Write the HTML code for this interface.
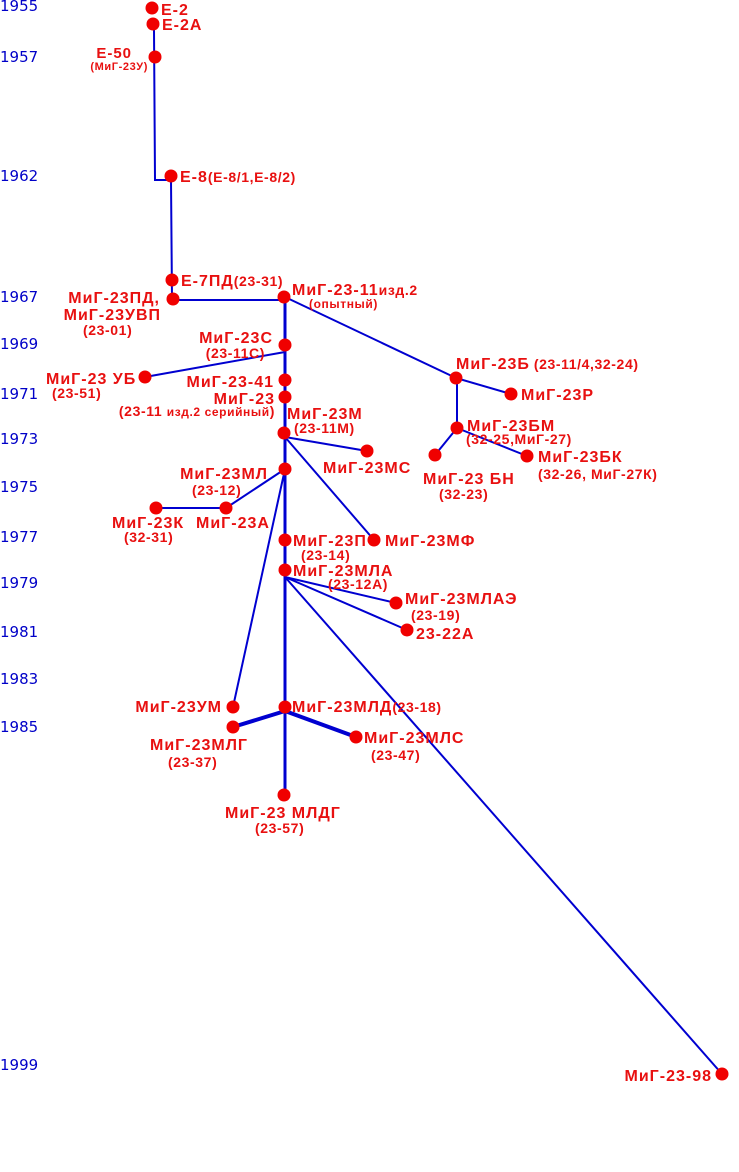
<!DOCTYPE html>
<html><head><meta charset="utf-8"><style>
html,body{margin:0;padding:0;background:#fff;}
svg{display:block}
.y{font-family:"DejaVu Sans","Liberation Sans",sans-serif;font-size:15px;fill:#0000c8;}
.t{font-family:"Liberation Sans",sans-serif;font-weight:bold;font-size:16px;letter-spacing:1px;fill:#e81010;}
.s{font-family:"Liberation Sans",sans-serif;font-weight:bold;font-size:14px;letter-spacing:0.6px;fill:#e81010;}
.e{text-anchor:end}
</style></head><body>
<svg width="739" height="1172" xmlns="http://www.w3.org/2000/svg">
<g class="y">
<text x="0" y="11">1955</text><text x="0" y="62">1957</text><text x="0" y="181">1962</text>
<text x="0" y="302">1967</text><text x="0" y="349">1969</text><text x="0" y="399">1971</text>
<text x="0" y="444">1973</text><text x="0" y="492">1975</text><text x="0" y="542">1977</text>
<text x="0" y="588">1979</text><text x="0" y="637">1981</text><text x="0" y="684">1983</text>
<text x="0" y="732">1985</text><text x="0" y="1070">1999</text>
</g>
<g stroke="#0000d0" stroke-width="2" fill="none">
<polyline points="153,24 154,30 155,180 171,180 172,299"/>
<line x1="173" y1="300" x2="284" y2="300"/>
<line x1="285" y1="297" x2="285" y2="795" stroke-width="3"/>
<line x1="285" y1="297" x2="456" y2="378"/>
<line x1="457" y1="378" x2="457" y2="428"/>
<line x1="456" y1="378" x2="511" y2="394"/>
<line x1="457" y1="428" x2="435" y2="455"/>
<line x1="457" y1="428" x2="527" y2="456"/>
<line x1="145" y1="377" x2="285" y2="352"/>
<line x1="285" y1="437" x2="367" y2="451"/>
<line x1="285" y1="437" x2="374" y2="540"/>
<line x1="285" y1="469" x2="226" y2="508"/>
<line x1="226" y1="508" x2="156" y2="508"/>
<line x1="285" y1="469" x2="233" y2="707"/>
<line x1="285" y1="577" x2="396" y2="603"/>
<line x1="285" y1="577" x2="407" y2="630"/>
<line x1="285" y1="577" x2="722" y2="1074"/>
<line x1="285" y1="711" x2="233" y2="727" stroke-width="4"/>
<line x1="285" y1="711" x2="356" y2="737" stroke-width="4"/>
</g>
<g fill="#f00000">
<circle cx="152" cy="8" r="6.5"/><circle cx="153" cy="24" r="6.5"/><circle cx="155" cy="57" r="6.5"/>
<circle cx="171" cy="176" r="6.5"/><circle cx="172" cy="280" r="6.5"/><circle cx="173" cy="299" r="6.5"/>
<circle cx="284" cy="297" r="6.5"/><circle cx="285" cy="345" r="6.5"/><circle cx="145" cy="377" r="6.5"/>
<circle cx="285" cy="380" r="6.5"/><circle cx="285" cy="397" r="6.5"/><circle cx="284" cy="433" r="6.5"/>
<circle cx="367" cy="451" r="6.5"/><circle cx="456" cy="378" r="6.5"/><circle cx="511" cy="394" r="6.5"/>
<circle cx="457" cy="428" r="6.5"/><circle cx="435" cy="455" r="6.5"/><circle cx="527" cy="456" r="6.5"/>
<circle cx="285" cy="469" r="6.5"/><circle cx="226" cy="508" r="6.5"/><circle cx="156" cy="508" r="6.5"/>
<circle cx="285" cy="540" r="6.5"/><circle cx="374" cy="540" r="6.5"/><circle cx="285" cy="570" r="6.5"/>
<circle cx="396" cy="603" r="6.5"/><circle cx="407" cy="630" r="6.5"/><circle cx="233" cy="707" r="6.5"/>
<circle cx="285" cy="707" r="6.5"/><circle cx="233" cy="727" r="6.5"/><circle cx="356" cy="737" r="6.5"/>
<circle cx="284" cy="795" r="6.5"/><circle cx="722" cy="1074" r="6.5"/>
</g>
<g class="t">
<text x="161" y="15">Е-2</text><text x="162" y="30">Е-2А</text>
<text x="132" y="58" class="e" font-size="15">Е-50</text>
<text x="180" y="182">Е-8<tspan class="s">(Е-8/1,Е-8/2)</tspan></text>
<text x="181" y="286">Е-7ПД<tspan class="s">(23-31)</tspan></text>
<text x="160" y="303" class="e">МиГ-23ПД,</text><text x="161" y="320" class="e">МиГ-23УВП</text>
<text x="292" y="295">МиГ-23-11<tspan class="s" font-size="12">изд.2</tspan></text>
<text x="273" y="343" class="e">МиГ-23С</text>
<text x="46" y="384">МиГ-23 УБ</text>
<text x="274" y="387" class="e">МиГ-23-41</text>
<text x="275" y="404" class="e">МиГ-23</text>
<text x="287" y="419">МиГ-23М</text>
<text x="323" y="473">МиГ-23МС</text>
<text x="456" y="369">МиГ-23Б<tspan class="s" dx="4">(23-11/4,32-24)</tspan></text>
<text x="521" y="400">МиГ-23Р</text>
<text x="467" y="431">МиГ-23БМ</text>
<text x="423" y="484">МиГ-23 БН</text>
<text x="538" y="462">МиГ-23БК</text>
<text x="268" y="479" class="e">МиГ-23МЛ</text>
<text x="112" y="528">МиГ-23К</text>
<text x="196" y="528">МиГ-23А</text>
<text x="293" y="546">МиГ-23П</text>
<text x="385" y="546">МиГ-23МФ</text>
<text x="293" y="576">МиГ-23МЛА</text>
<text x="405" y="604">МиГ-23МЛАЭ</text>
<text x="416" y="639">23-22А</text>
<text x="222" y="712" class="e">МиГ-23УМ</text>
<text x="292" y="712">МиГ-23МЛД<tspan class="s">(23-18)</tspan></text>
<text x="150" y="750">МиГ-23МЛГ</text>
<text x="364" y="743">МиГ-23МЛС</text>
<text x="225" y="818">МиГ-23 МЛДГ</text>
<text x="712" y="1081" class="e">МиГ-23-98</text>
</g>
<g class="s">
<text x="148" y="70" class="e" font-size="11">(МиГ-23У)</text>
<text x="83" y="335">(23-01)</text>
<text x="309" y="308" font-size="12">(опытный)</text>
<text x="265" y="358" class="e">(23-11С)</text>
<text x="52" y="398">(23-51)</text>
<text x="275" y="416" class="e">(23-11 <tspan font-size="12">изд.2 серийный</tspan>)</text>
<text x="294" y="433">(23-11М)</text>
<text x="466" y="444">(32-25,МиГ-27)</text>
<text x="439" y="499">(32-23)</text>
<text x="538" y="479">(32-26, МиГ-27К)</text>
<text x="192" y="495">(23-12)</text>
<text x="124" y="542">(32-31)</text>
<text x="301" y="560">(23-14)</text>
<text x="328" y="589">(23-12А)</text>
<text x="411" y="620">(23-19)</text>
<text x="168" y="767">(23-37)</text>
<text x="371" y="760">(23-47)</text>
<text x="255" y="833">(23-57)</text>
</g>
</svg>
</body></html>
